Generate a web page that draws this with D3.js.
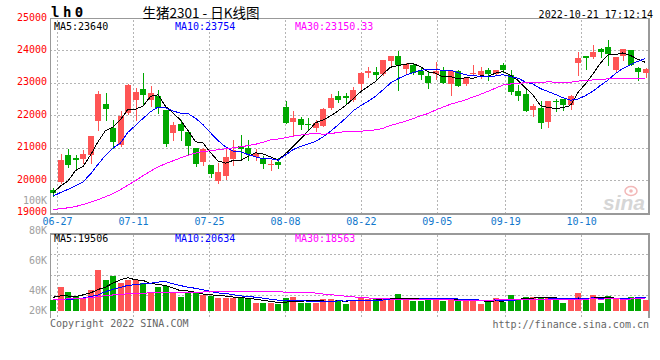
<!DOCTYPE html>
<html><head><meta charset="utf-8">
<script src="https://cdn.jsdelivr.net/npm/d3@7"></script>
<style>body{margin:0;background:#fff}svg{display:block}</style>
</head><body>
<svg id="chart" width="660" height="360"></svg>
<script>
// ---------------- data ----------------
const dates = ["06-24","06-27","06-28","06-29","06-30","07-01","07-04","07-05","07-06","07-07","07-08",
"07-11","07-12","07-13","07-14","07-15","07-18","07-19","07-20","07-21","07-22",
"07-25","07-26","07-27","07-28","07-29","08-01","08-02","08-03","08-04","08-05",
"08-08","08-09","08-10","08-11","08-12","08-15","08-16","08-17","08-18","08-19",
"08-22","08-23","08-24","08-25","08-26","08-29","08-30","08-31","09-01","09-02",
"09-05","09-06","09-07","09-08","09-09","09-13","09-14","09-15","09-16",
"09-19","09-20","09-21","09-22","09-23","09-26","09-27","09-28","09-29","09-30",
"10-10","10-11","10-12","10-13","10-14","10-17","10-18","10-19","10-20","10-21"];

const open  = [19720,19960,20780,20700,20660,20780,21840,22350,21630,21090,
22070,22480,22820,22480,22600,22170,21470,21760,21490,21000,
20570,20480,19980,20140,20670,21080,21010,20730,20670,20480,
20570,22270,21810,21910,21740,21620,21690,22250,22600,22600,
22480,22990,23330,23350,23280,23680,23835,23455,23580,23380,
23230,23280,23410,22990,23370,22990,23280,23270,23400,23280,
23560,23270,22760,22660,22170,22240,21810,22460,22510,22340,
23630,23835,23815,24070,24120,23400,23835,24030,23485,23320];
const high  = [19760,20830,20965,20780,20930,21380,22760,22700,21860,22150,
22990,22870,23320,22910,22790,22190,21810,21880,21500,21020,
20990,20485,20555,20980,21240,21420,21240,20980,20760,20620,
20700,22470,22150,21960,21940,21880,22230,22680,22760,22710,
22890,23350,23510,23510,23730,23840,23990,23630,23610,23490,
23380,23650,23490,23380,23400,23170,23560,23510,23480,23420,
23640,23420,22940,22840,22370,22450,22460,22530,22530,22630,
23970,23840,24195,24080,24330,23820,24060,24040,23490,23485];
const low   = [19530,19930,20420,20370,20550,20540,21550,21860,20990,21080,
22060,21880,22350,22290,22070,21060,21260,21260,20830,20450,
20470,20115,19940,20050,20470,20650,20650,20650,20390,20320,
20390,21780,21400,21580,21580,21520,21680,22220,22430,22400,
22470,22810,23200,23090,23250,23510,22790,23300,23300,23120,
22870,23130,23000,22650,22910,22940,23250,23150,23090,23270,
23350,22680,22480,22140,21980,21620,21650,22140,22170,22220,
23250,23455,23790,23815,23560,23350,23730,23560,23115,23200];
const close = [19630,20630,20470,20650,20810,21370,22680,22200,21190,21980,
22940,22720,22640,22700,22250,21140,21710,21530,21080,20515,
20985,20200,20260,20720,20940,20980,20810,20840,20520,20520,
20470,21790,21940,21710,21700,21780,22220,22560,22480,22540,
22790,23320,23370,23250,23710,23835,23580,23590,23320,23270,
23010,23390,23010,23370,22920,23170,23320,23380,23300,23400,
23400,22740,22610,22150,22290,21780,22450,22430,22320,22600,
23790,23790,23970,23970,23890,23815,24050,23580,23350,23430];
const volume = [16900,37500,29700,23200,18100,32700,63900,48200,54400,44100,
48200,48200,44100,29700,37500,38700,29700,21900,28400,27500,
24500,22700,20600,20800,20600,19500,18100,12900,12900,11700,
10300,20300,22200,12900,12900,12500,18100,18100,17200,10900,
16200,21300,18200,18200,20300,17200,26600,17200,16200,16200,
20300,20300,16200,20300,16200,16200,17200,10900,14100,20300,
14100,25000,17200,21900,21900,20300,21300,17200,13100,17200,
28100,18200,25000,13100,23500,20300,17200,21900,20300,17200];

const ma5Head  = [19620,19830,19990,20310];
const ma10Head = [19520,19630,19730,19840,19960,20200,20500,20780,21000];
const ma30Head = [19110,19130,19160,19200,19260,19330,19410,19500,19600,19720,
19860,20000,20150,20290,20420,20520,20610,20700,20780,20850,
20900,20920,20950,20980,21010,21040,21080,21120,21180];
const vma5Head  = [21400,23400,23400,22700];
const vma10Head = [17200,17700,18200,18800,20300,22400,25000,30200,33900];
const vma30Head = [18200,18400,18800,19300,19800,20800,22400,23800,25000,26000,
26800,27400,27800,28200,28500,28800,29100,29300,29400,29500,
29600,29700,29800,29900,30000,30000,30100,30100,30200];

const priceTicks = [19000,20000,21000,22000,23000,24000,25000];
const volTicks = [100000,80000,60000,40000,20000];
const volTickLabels = ["100K","80K","60K","40K","20K"];
const dateTicks = ["06-27","07-11","07-25","08-08","08-22","09-05","09-19","10-10"];
const priceLegend = ["MA5:23640","MA10:23754","MA30:23150.33"];
const volLegend = ["MA5:19506","MA10:20634","MA30:18563"];
const titleCode = "lh0";
const titleText = "生猪2301 - 日K线图";
const timeText = "2022-10-21 17:12:14";
const copyText = "Copyright 2022 SINA.COM";
const urlText = "http://finance.sina.com.cn";

// ---------------- styles ----------------
const RED = "#ff5555", GREEN = "#00a800";
const MA_COLORS = ["#000000","#0000ff","#ff00ff"];
const AXIS = "#999999", GRID = "#b4b4b4";
const MONO = "'DejaVu Sans Mono', monospace";

const N = close.length;
function movingAvg(vals, n, head){
  return vals.map((v,i)=> i < n-1 ? head[i] : d3.mean(vals.slice(i-n+1, i+1)));
}
const priceMA = [movingAvg(close,5,ma5Head), movingAvg(close,10,ma10Head), movingAvg(close,30,ma30Head)];
const volMA = [movingAvg(volume,5,vma5Head), movingAvg(volume,10,vma10Head), movingAvg(volume,30,vma30Head)];

const svg = d3.select("#chart");
const L = 50, R = 650;
const pTop = 18.5, pBot = 213;
const vTop = 234, vBase = 311, vBot = 318;

const x = d3.scaleBand().domain(d3.range(N)).range([49.25, 649.25]);
const gx = d3.scaleLinear().domain([0, N-1]).range([L, R]);
const y = d3.scaleLinear().domain([19000, 25000]).range([pBot, pTop]);
const vy = d3.scaleLinear().domain([0, 120000]).range([vBase, vTop]);
const vLabelY = d3.scaleLinear().domain([0, 100000]).range([350, 200]);
const crisp = v => Math.floor(v) + 0.5;

// ---------------- grid ----------------
const g = svg.append("g");
g.selectAll(".hg").data(priceTicks.filter(t => t > 19000 && t < 25000)).join("line")
  .attr("x1", L).attr("x2", R).attr("y1", d => crisp(y(d))).attr("y2", d => crisp(y(d)))
  .attr("stroke", GRID).attr("stroke-dasharray", "2,2");
const tickIdx = dateTicks.map(d => dates.indexOf(d));
g.selectAll(".vg").data(tickIdx).join("line")
  .attr("x1", d => crisp(gx(d))).attr("x2", d => crisp(gx(d)))
  .attr("y1", 20).attr("y2", pBot).attr("stroke", GRID).attr("stroke-dasharray", "2,2");
g.selectAll(".vg2").data(tickIdx).join("line")
  .attr("x1", d => crisp(gx(d))).attr("x2", d => crisp(gx(d)))
  .attr("y1", vTop + 1).attr("y2", vBot).attr("stroke", GRID).attr("stroke-dasharray", "2,2");
g.selectAll(".vh").data([1,2,3]).join("line")
  .attr("x1", L).attr("x2", R)
  .attr("y1", k => crisp(vTop + k*(316.5 - vTop)/4)).attr("y2", k => crisp(vTop + k*(316.5 - vTop)/4))
  .attr("stroke", GRID).attr("stroke-dasharray", "2,2");

// ---------------- frames ----------------
const f = svg.append("g").attr("stroke", AXIS).attr("shape-rendering","crispEdges");
f.append("line").attr("x1", L).attr("x2", R).attr("y1", crisp(y(25000))).attr("y2", crisp(y(25000)));
f.append("line").attr("x1", L).attr("x2", R).attr("y1", 214).attr("y2", 214).attr("stroke-width", 2);
f.append("line").attr("x1", 50.5).attr("x2", 50.5).attr("y1", 19).attr("y2", 215);
f.append("line").attr("x1", 649).attr("x2", 649).attr("y1", 19).attr("y2", 215).attr("stroke-width", 2);
f.append("line").attr("x1", L).attr("x2", R).attr("y1", 234).attr("y2", 234).attr("stroke-width", 2);
f.append("line").attr("x1", 50.5).attr("x2", 50.5).attr("y1", 233).attr("y2", vBot);
f.append("line").attr("x1", 649).attr("x2", 649).attr("y1", 233).attr("y2", vBot).attr("stroke-width", 2);

// ---------------- watermark ----------------
const wm = svg.append("g");
wm.append("text").attr("x", 624).attr("y", 210).attr("text-anchor","middle")
  .attr("font-family","'Liberation Sans', Arial, sans-serif").attr("font-size", 21)
  .attr("font-style","italic").attr("font-weight","bold").attr("fill","#d6d6d6").text("sina");
wm.append("ellipse").attr("cx", 631).attr("cy", 191).attr("rx", 6).attr("ry", 4.5)
  .attr("fill","none").attr("stroke","#f2b8b8").attr("stroke-width", 1.5);
wm.append("circle").attr("cx", 631).attr("cy", 191).attr("r", 1.8).attr("fill","#f2b8b8");

// ---------------- candles ----------------
const idx = d3.range(N);
const colorOf = i => close[i] >= open[i] ? RED : GREEN;
const cg = svg.append("g").attr("shape-rendering","crispEdges");
cg.selectAll(".wick").data(idx).join("line")
  .attr("x1", i => Math.round(x(i) + 0.75) + 3.5).attr("x2", i => Math.round(x(i) + 0.75) + 3.5)
  .attr("y1", i => Math.round(y(high[i]))).attr("y2", i => Math.round(y(low[i])) + 1)
  .attr("stroke", colorOf);
cg.selectAll(".body").data(idx).join("rect")
  .attr("x", i => Math.round(x(i) + 0.75)).attr("width", 6)
  .attr("y", i => Math.round(y(Math.max(open[i], close[i]))))
  .attr("height", i => Math.max(1, Math.round(y(Math.min(open[i], close[i]))) - Math.round(y(Math.max(open[i], close[i])))))
  .attr("fill", colorOf);

// ---------------- price MA lines ----------------
const cx = i => x(i) + 3.75;
const lineP = d3.line().x((d,i) => cx(i)).y(d => y(d));
svg.append("g").selectAll("path").data(priceMA).join("path")
  .attr("d", lineP).attr("fill","none").attr("stroke", (d,k) => MA_COLORS[k])
  .attr("stroke-width", 1).attr("shape-rendering","crispEdges");

// ---------------- volume bars ----------------
svg.append("g").attr("shape-rendering","crispEdges").selectAll("rect").data(idx).join("rect")
  .attr("x", i => Math.round(x(i) + 0.75)).attr("width", 6)
  .attr("y", i => Math.round(vy(volume[i]))).attr("height", i => vBase - Math.round(vy(volume[i])))
  .attr("fill", colorOf);
const lineV = d3.line().x((d,i) => cx(i)).y(d => vy(d));
svg.append("g").selectAll("path").data(volMA).join("path")
  .attr("d", lineV).attr("fill","none").attr("stroke", (d,k) => MA_COLORS[k])
  .attr("stroke-width", 1).attr("shape-rendering","crispEdges");

// ---------------- texts ----------------
const t = svg.append("g").attr("font-family", MONO).attr("font-size", 10);
t.selectAll(".pl").data(priceTicks).join("text")
  .attr("x", 47).attr("y", d => y(d) - 1.5).attr("text-anchor","end").attr("dominant-baseline","central")
  .attr("fill","#ff0000").text(d => d);
t.selectAll(".vl").data(volTicks).join("text")
  .attr("x", 47).attr("y", d => Math.min(310, vLabelY(d))).attr("text-anchor","end").attr("dominant-baseline","central")
  .attr("fill","#a0a0a0").text((d,i) => volTickLabels[i]);
t.selectAll(".xl").data(tickIdx).join("text")
  .attr("x", d => gx(d)).attr("y", 221.5).attr("text-anchor","middle").attr("dominant-baseline","central")
  .attr("fill","#1177cc").text((d,i) => dateTicks[i]);
const legX = [54, 175, 295];
t.selectAll(".lg").data(priceLegend).join("text")
  .attr("x", (d,i) => legX[i]).attr("y", 26).attr("dominant-baseline","central")
  .attr("fill", (d,i) => MA_COLORS[i]).text(d => d);
t.selectAll(".lgv").data(volLegend).join("text")
  .attr("x", (d,i) => legX[i]).attr("y", 238.5).attr("dominant-baseline","central")
  .attr("fill", (d,i) => MA_COLORS[i]).text(d => d);
t.append("text").attr("x", 50).attr("y", 323.5).attr("dominant-baseline","central").attr("fill","#666").text(copyText);
t.append("text").attr("x", 649).attr("y", 324).attr("text-anchor","end").attr("dominant-baseline","central").attr("fill","#666").text(urlText);
t.append("text").attr("x", 653).attr("y", 14).attr("text-anchor","end").attr("dominant-baseline","central").attr("fill","#000").text(timeText);

svg.append("text").attr("x", 51).attr("y", 16.5).attr("font-family", MONO).attr("font-size", 14)
  .attr("font-weight","bold").attr("letter-spacing", 3.5).attr("fill","#000").text(titleCode);
svg.append("text").attr("x", 201).attr("y", 11.5).attr("text-anchor","middle").attr("dominant-baseline","central")
  .attr("font-family","'Noto Sans CJK SC', sans-serif").attr("font-size", 13.5).attr("fill","#000").text(titleText);
</script>
</body></html>
